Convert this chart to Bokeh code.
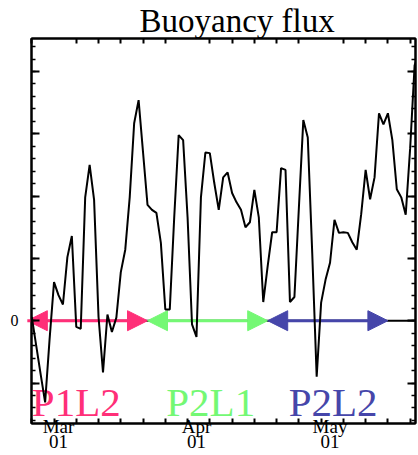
from bokeh.plotting import figure
from bokeh.models import Range1d, LinearAxis, FixedTicker, Span, Arrow, NormalHead, Label
from bokeh.embed import file_html
from bokeh.resources import INLINE

# ---- data (days since 29 Feb) ----
days = list(range(-5, 84))
flux = [0.06, -0.40, -0.86, -1.31, -0.30, 0.62, 0.41, 0.26, 1.02, 1.36,
        -0.10, -0.13, 1.98, 2.50, 1.94, 0.06, -0.83, 0.10, -0.18, 0.05,
        0.78, 1.14, 1.98, 3.17, 3.54, 2.70, 1.86, 1.78, 1.73, 1.25,
        0.18, 0.18, 1.66, 2.98, 2.90, 1.66, -0.06, -0.26, 1.98, 2.70,
        2.69, 2.21, 1.78, 2.30, 2.38, 2.05, 1.90, 1.78, 1.50, 1.58,
        2.10, 1.66, 0.30, 0.88, 1.42, 1.42, 2.45, 2.42, 0.30, 0.38,
        1.81, 3.22, 2.94, 1.09, -0.90, 0.29, 0.66, 0.93, 1.62, 1.41,
        1.42, 1.41, 1.26, 1.14, 1.71, 2.42, 1.95, 2.30, 3.33, 3.15,
        3.33, 2.90, 2.11, 1.98, 1.70, 2.77, 4.10, 4.30, 4.45]

month_ticks = [1, 32, 62]
month_labels = ["Mar\n01", "Apr\n01", "May\n01"]
x_ticks = list(range(-5, 81, 5))
top_ticks = [d for d in x_ticks if d not in (0, 30, 60)]
y_major = [-1, 0, 1, 2, 3, 4]
y_minor = [round(i * 0.2, 1) for i in range(-8, 23)]

phase_names = ["P1L2", "P2L1", "P2L2"]
phase_start = [-6, 21, 48]
phase_end = [21, 48, 75]
phase_colors = ["#FF2F78", "#74F874", "#4646AA"]
phase_label_x = [5.0, 35.2, 62.7]

SERIF = "Liberation Serif"

p = figure(width=418, height=455, output_backend="svg", toolbar_location=None,
           x_range=Range1d(-5.06, 81.2), y_range=Range1d(-1.65, 4.53),
           x_axis_type=None, y_axis_type=None,
           min_border_left=31, min_border_right=3, min_border_top=38,
           min_border_bottom=28)
p.xgrid.visible = False
p.ygrid.visible = False
p.outline_line_color = "black"
p.outline_line_width = 2
p.background_fill_color = "white"
p.border_fill_color = "white"

p.title.text = "Buoyancy flux"
p.title.text_font = SERIF
p.title.text_font_style = "normal"
p.title.text_font_size = "33px"
p.title.text_color = "black"
p.title.align = "left"
p.title.offset = 108
p.title.standoff = 0

def make_axis(ticker, tick_in=5, minor_in=4):
    ax = LinearAxis(ticker=ticker)
    ax.axis_line_width = 2
    ax.axis_line_color = "black"
    ax.major_tick_in = tick_in
    ax.major_tick_out = 0
    ax.major_tick_line_width = 2
    ax.minor_tick_in = minor_in
    ax.minor_tick_out = 0
    ax.minor_tick_line_width = 1.5
    ax.major_label_standoff = 0
    return ax

# bottom: month labels at month starts, small ticks every 5 days
bottom = make_axis(FixedTicker(ticks=month_ticks, minor_ticks=x_ticks), minor_in=5)
bottom.major_tick_line_color = None
bottom.minor_tick_line_width = 2
bottom.major_label_overrides = dict(zip(month_ticks, month_labels))
bottom.major_label_text_font = SERIF
bottom.major_label_text_font_size = "19px"
bottom.major_label_text_color = "black"
bottom.major_label_text_line_height = 0.74
bottom.major_label_standoff = -8
p.add_layout(bottom, "below")

top = make_axis(FixedTicker(ticks=top_ticks))
top.major_label_overrides = {t: "" for t in top_ticks}
p.add_layout(top, "above")

left = make_axis(FixedTicker(ticks=y_major, minor_ticks=y_minor), tick_in=8)
left.major_label_overrides = {t: ("0" if t == 0 else "") for t in y_major}
left.major_label_text_font = SERIF
left.major_label_text_font_size = "16px"
left.major_label_text_color = "black"
left.major_label_standoff = 13
p.add_layout(left, "left")

right = make_axis(FixedTicker(ticks=y_major, minor_ticks=y_minor), tick_in=8)
right.major_label_overrides = {t: "" for t in y_major}
p.add_layout(right, "right")

p.add_layout(Span(location=0, dimension="width", line_color="black",
                  line_width=2, level="underlay"))

for name, s, e, c, lx in zip(phase_names, phase_start, phase_end, phase_colors, phase_label_x):
    p.add_layout(Arrow(start=NormalHead(size=20, fill_color=c, line_color=c),
                       end=NormalHead(size=20, fill_color=c, line_color=c),
                       x_start=s, y_start=0, x_end=e, y_end=0,
                       line_color=c, line_width=3, level="underlay"))
    p.add_layout(Label(x=lx, y=-1.31, text=name, text_align="center",
                       text_baseline="alphabetic", text_font=SERIF,
                       text_font_size="41px", text_color=c, level="underlay"))

p.line(days, flux, line_color="black", line_width=2)

open("out.html", "w").write(file_html(p, INLINE))
